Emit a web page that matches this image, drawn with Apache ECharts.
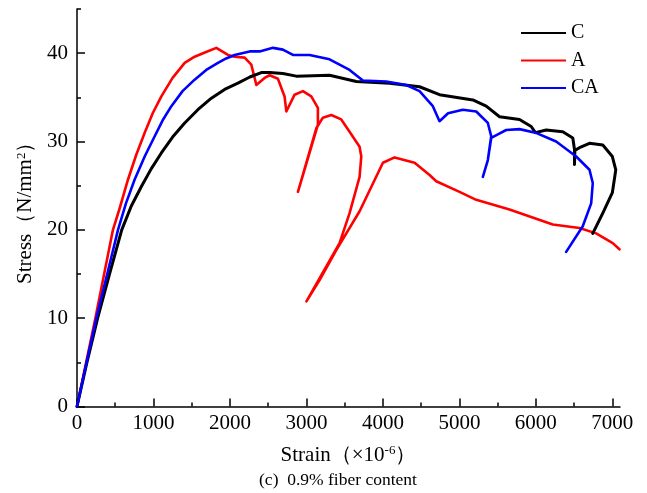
<!DOCTYPE html>
<html>
<head>
<meta charset="utf-8">
<script src="https://cdn.jsdelivr.net/npm/echarts@6/dist/echarts.min.js"></script>
<style>
html,body{margin:0;padding:0;background:#fff;}
#chart{width:647px;height:493px;}
</style>
</head>
<body>
<div id="chart"></div>
<script>
// ---- data (strain ×10^-6, stress N/mm2) ----
const cStrain = [0,130,270,425,585,710,842,970,1103,1250,1408,1580,1757,1930,2104,2260,2410,2518,2692,2867,3302,3652,4087,4479,4740,5176,5351,5525,5786,5939,5994,6135,6352,6483,6505,6505,6510,6570,6701,6875,7000,7045,7000,6875,6744];
const cStress = [0,5,10,15,20,22.7,24.9,26.9,28.7,30.5,32.1,33.6,34.9,35.9,36.6,37.3,37.8,37.8,37.7,37.4,37.5,36.8,36.6,36.2,35.3,34.7,34.0,32.8,32.5,31.7,31.0,31.3,31.1,30.4,29.1,27.4,29.0,29.3,29.8,29.6,28.3,26.8,24.2,21.9,19.6];

const aStrain = [0,120,240,355,470,560,667,775,885,990,1103,1250,1408,1538,1680,1822,1974,2061,2192,2279,2345,2453,2518,2627,2714,2737,2845,2954,3063,3150,3150,2889,3129,3215,3325,3455,3564,3695,3717,3695,3564,3433,3000,3172,3390,3695,4000,4153,4414,4610,4697,5002,5220,5655,6221,6570,6788,7005,7093];
const aStress = [0,5,10,15,20,22.5,25.7,28.5,31.0,33.2,35.1,37.2,38.9,39.6,40.1,40.6,39.8,39.6,39.5,38.7,36.4,37.2,37.5,37.1,35.1,33.4,35.3,35.7,35.1,33.8,31.9,24.3,31.5,32.7,33.0,32.5,31.1,29.4,28.3,26.0,21.9,18.5,11.9,14.3,17.7,22.1,27.6,28.2,27.6,26.2,25.5,24.3,23.4,22.3,20.6,20.2,19.6,18.5,17.8];

const caStrain = [0,125,253,395,536,640,754,885,1016,1120,1234,1380,1538,1690,1843,1950,2061,2257,2388,2562,2692,2823,3041,3302,3564,3738,4044,4305,4479,4653,4740,4852,5045,5220,5372,5416,5372,5307,5372,5416,5503,5612,5786,5994,6265,6527,6701,6744,6723,6613,6396];
const caStress = [0,5,10,15,20,23,25.7,28.3,30.6,32.4,34.0,35.7,37.0,38.1,38.9,39.4,39.8,40.2,40.2,40.6,40.4,39.8,39.8,39.3,38.1,36.9,36.8,36.4,35.7,34.0,32.3,33.2,33.6,33.4,32.1,30.6,27.9,26.0,27.9,30.4,30.8,31.3,31.4,31.0,30.0,28.3,26.8,25.3,23.0,20.4,17.5];

const seriesNames = ['C','A','CA'];
const xMajorTicks = [0,1000,2000,3000,4000,5000,6000,7000];
const xMinorTicks = [500,1500,2500,3500,4500,5500,6500];
const yMajorTicks = [0,10,20,30,40];
const yMinorTicks = [5,15,25,35,45];

function pairs(xs, ys){ return xs.map((x,i)=>[x, ys[i]]); }

const FONT = 'Liberation Serif';
const chart = echarts.init(document.getElementById('chart'), null, {renderer:'canvas'});

const baseX = {type:'value', min:0, max:7100, position:'bottom'};
const baseY = {type:'value', min:0, max:45, position:'left'};
const supStyle = {fontFamily:FONT, fontSize:13, verticalAlign:'top', padding:[0,0,9,0], color:'#000'};

chart.setOption({
  animation:false,
  backgroundColor:'#fff',
  grid:{left:77, top:9, width:543, height:397.5, containLabel:false},
  legend:{
    left:521, top:23, orient:'vertical', padding:0,
    itemWidth:45, itemHeight:14, itemGap:7.5,
    data:seriesNames,
    textStyle:{fontFamily:FONT, fontSize:20, color:'#000'},
    icon:'path://M0,6 L45,6 L45,8 L0,8 Z'
  },
  xAxis:[
    Object.assign({}, baseX, {
      name:'Strain（×10{sup|-6}）',
      nameLocation:'middle', nameGap:38,
      nameTextStyle:{fontFamily:FONT, fontSize:21, color:'#000', rich:{sup:supStyle}},
      axisLine:{show:true, lineStyle:{color:'#000', width:1.5}},
      axisTick:{show:true, inside:true, length:8, customValues:xMajorTicks, lineStyle:{color:'#000', width:1.5}},
      axisLabel:{show:true, customValues:xMajorTicks, formatter:v=>String(v), fontFamily:FONT, fontSize:21, color:'#000', margin:6},
      splitLine:{show:false}
    }),
    Object.assign({}, baseX, {
      axisLine:{show:false},
      axisTick:{show:true, inside:true, length:4, customValues:xMinorTicks, lineStyle:{color:'#000', width:1.5}},
      axisLabel:{show:false},
      splitLine:{show:false}
    })
  ],
  yAxis:[
    Object.assign({}, baseY, {
      name:'Stress（N/mm{sup|2}）',
      nameLocation:'middle', nameGap:34,
      nameTextStyle:{fontFamily:FONT, fontSize:21, color:'#000', rich:{sup:supStyle}},
      axisLine:{show:true, lineStyle:{color:'#000', width:1.5}},
      axisTick:{show:true, inside:true, length:8, customValues:yMajorTicks, lineStyle:{color:'#000', width:1.5}},
      axisLabel:{show:true, customValues:yMajorTicks, formatter:v=>String(v), fontFamily:FONT, fontSize:21, color:'#000', margin:9},
      splitLine:{show:false}
    }),
    Object.assign({}, baseY, {
      axisLine:{show:false},
      axisTick:{show:true, inside:true, length:4, customValues:yMinorTicks, lineStyle:{color:'#000', width:1.5}},
      axisLabel:{show:false},
      splitLine:{show:false}
    })
  ],
  graphic:[{
    type:'text', x:338, y:480,
    style:{text:'(c)  0.9% fiber content', fontFamily:FONT, fontSize:17.5, fill:'#000', align:'center', verticalAlign:'middle'}
  }],
  series:[
    {name:'C', type:'line', data:pairs(cStrain,cStress), symbol:'none', smooth:false, color:'#000000',
     lineStyle:{color:'#000000', width:3, join:'round', cap:'round'}, z:3},
    {name:'A', type:'line', data:pairs(aStrain,aStress), symbol:'none', smooth:false, color:'#ff0000',
     lineStyle:{color:'#ff0000', width:2.6, join:'round', cap:'round'}, z:2},
    {name:'CA', type:'line', data:pairs(caStrain,caStress), symbol:'none', smooth:false, color:'#0000ff',
     lineStyle:{color:'#0000ff', width:2.6, join:'round', cap:'round'}, z:4}
  ]
});
</script>
</body>
</html>
